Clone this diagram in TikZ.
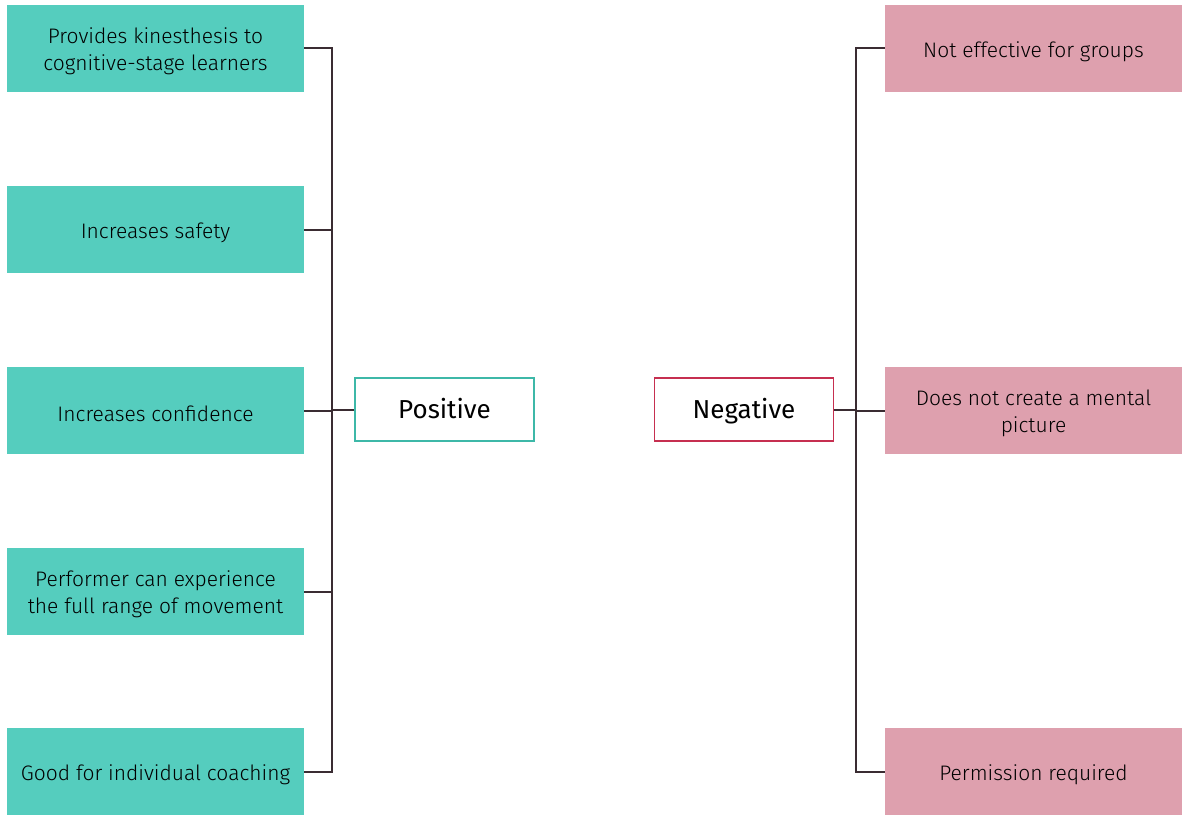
\documentclass[tikz,border=0pt]{standalone}
\usepackage{fontspec}
\setmainfont{Fira Sans Light}
\newfontfamily\headfont{Fira Sans}
\definecolor{posfill}{HTML}{55CDBE}
\definecolor{posedge}{HTML}{3DB8A8}
\definecolor{negfill}{HTML}{DEA0AE}
\definecolor{negedge}{HTML}{C62F50}
\definecolor{wire}{HTML}{3A2C32}
\begin{document}
\begin{tikzpicture}[x=1pt,y=-1pt,
  itembox/.style={minimum width=297pt,minimum height=87pt,inner sep=0pt},
  itemtext/.style={inner sep=0pt,align=center,yshift=-3pt,
    font=\fontsize{21}{27}\selectfont,text=black},
  posbox/.style={itembox,fill=posfill},
  negbox/.style={itembox,fill=negfill},
  headbox/.style={minimum width=179pt,minimum height=63pt,inner sep=0pt,fill=white,
    text height=21pt,text depth=3pt,
    line width=1.6pt,font=\headfont\fontsize{26}{30}\selectfont,text=black},
  wireline/.style={draw=wire,line width=2pt}]
\useasboundingbox (0,0) rectangle (1182,814);
% left column
\node[posbox] (p1) at (155.5,48.5) {};
\node[posbox] (p2) at (155.5,229.5) {};
\node[posbox] (p3) at (155.5,410.5) {};
\node[posbox] (p4) at (155.5,591.5) {};
\node[posbox] (p5) at (155.5,771.5) {};
\node[itemtext] (tp1) at (p1.center) {Provides kinesthesis to\\cognitive-stage learners};
\node[itemtext] (tp2) at (p2.center) {Increases safety};
\node[itemtext] (tp3) at (p3.center) {Increases confidence};
\node[itemtext] (tp4) at (p4.center) {Performer can experience\\the full range of movement};
\node[itemtext] (tp5) at (p5.center) {Good for individual coaching};
% right column
\node[negbox] (n1) at (1033.5,48.5) {};
\node[negbox] (n2) at (1033.5,410.5) {};
\node[negbox] (n3) at (1033.5,771.5) {};
\node[itemtext] (tn1) at (n1.center) {Not effective for groups};
\node[itemtext] (tn2) at (n2.center) {Does not create a mental\\picture};
\node[itemtext] (tn3) at (n3.center) {Permission required};
% headings
\node[headbox,draw=posedge] (P) at (444.5,409.5) {Positive};
\node[headbox,draw=negedge] (N) at (744,409.5) {Negative};
% bus coordinates
\coordinate (lb1) at (332,48);
\coordinate (lb5) at (332,772);
\coordinate (rb1) at (856,48);
\coordinate (rb3) at (856,772);
% left connectors
\draw[wireline] (p1.east |- lb1) -- (lb1) -- (lb5) -- (p5.east |- lb5);
\draw[wireline] (p2.east) -- (p2.east -| lb1);
\draw[wireline] (p3.east) -- (p3.east -| lb1);
\draw[wireline] (p4.east) -- (p4.east -| lb1);
\draw[wireline] (P.west) -- (P.west -| lb1);
% right connectors
\draw[wireline] (n1.west |- rb1) -- (rb1) -- (rb3) -- (n3.west |- rb3);
\draw[wireline] (n2.west) -- (n2.west -| rb1);
\draw[wireline] (N.east) -- (N.east -| rb1);
\end{tikzpicture}
\end{document}
